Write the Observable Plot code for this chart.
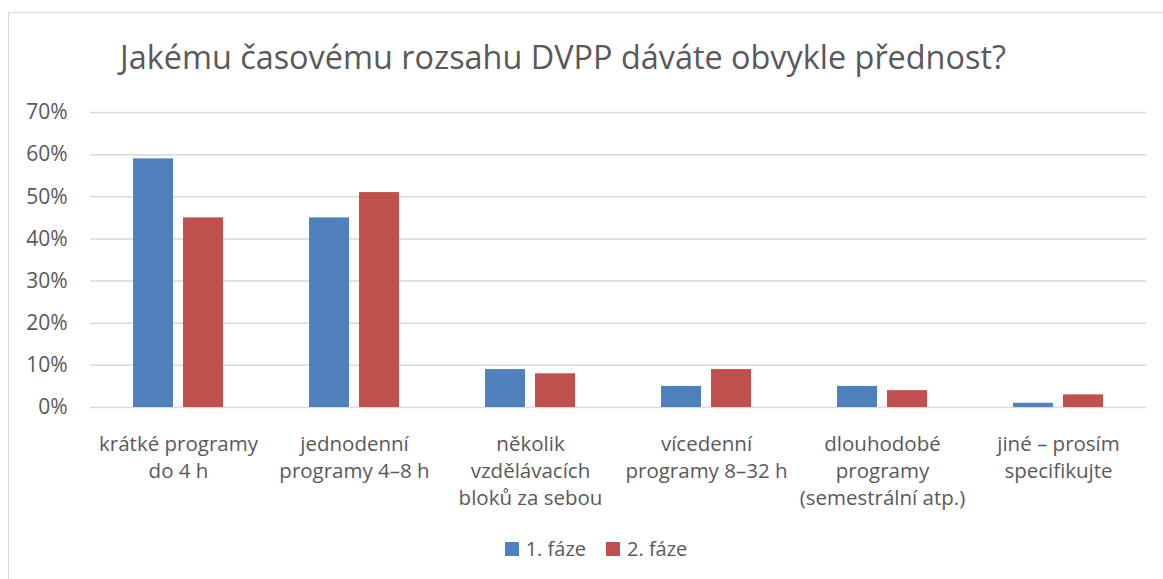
<!DOCTYPE html>
<html>
<head>
<meta charset="utf-8">
<script src="https://cdn.jsdelivr.net/npm/d3@7"></script>
<script src="https://cdn.jsdelivr.net/npm/@observablehq/plot@0.6"></script>
<style>
  html, body { margin: 0; padding: 0; background: #fff; }
  body { width: 1163px; height: 579px; position: relative; overflow: hidden; font-family: "Open Sans", sans-serif; color: #595959; }
  #frame { position: absolute; left: 8px; top: 12px; width: 1160px; height: 600px; border: 1px solid #d9d9d9; box-sizing: border-box; }
  #title { position: absolute; left: 120px; top: 34px; font-size: 32.4px; white-space: nowrap; color: #595959; }
  #chart { position: absolute; left: 0; top: 80px; }
  #legend { position: absolute; top: 535px; left: 0; width: 1192px; display: flex; justify-content: center; gap: 20px; font-size: 20px; }
  .item { display: flex; align-items: center; gap: 7px; }
  .sw { width: 14px; height: 14px; display: inline-block; }
</style>
</head>
<body>
<div id="frame"></div>
<div id="title">Jakému časovému rozsahu DVPP dáváte obvykle přednost?</div>
<div id="chart"></div>
<div id="legend"></div>
<script>
const categories = [
  "krátké programy\ndo 4 h",
  "jednodenní\nprogramy 4–8 h",
  "několik\nvzdělávacích\nbloků za sebou",
  "vícedenní\nprogramy 8–32 h",
  "dlouhodobé\nprogramy\n(semestrální atp.)",
  "jiné – prosím\nspecifikujte"
];
const series = ["1. fáze", "2. fáze"];
const faze1 = [59, 45, 9, 5, 5, 1];
const faze2 = [45, 51, 8, 9, 4, 3];
const yTicks = [0, 10, 20, 30, 40, 50, 60, 70];
const colors = ["#4f81bd", "#c0504d"];

const data = categories.flatMap((c, i) => [
  {cat: c, s: series[0], v: faze1[i]},
  {cat: c, s: series[1], v: faze2[i]}
]);

const chart = Plot.plot({
  width: 1163,
  height: 440,
  marginLeft: 89,
  marginRight: 16,
  marginTop: 32,
  marginBottom: 113,
  style: {fontFamily: "Open Sans, sans-serif", color: "#595959", background: "transparent", overflow: "visible"},
  fx: {domain: categories, padding: 0, label: null},
  x: {domain: series, paddingInner: 0.2, paddingOuter: 0.86, axis: null},
  y: {domain: [0, 70], label: null},
  color: {domain: series, range: colors},
  marks: [
    Plot.gridY(yTicks, {stroke: "#d9d9d9", strokeOpacity: 1, strokeWidth: 1.5}),
    Plot.barY(data, {fx: "cat", x: "s", y: "v", fill: "s"}),
    Plot.axisY(yTicks, {tickSize: 0, tickPadding: 23, tickFormat: d => d + "%", fontSize: 21, fill: "#595959", label: null}),
    Plot.axisFx({anchor: "bottom", tickSize: 0, tickPadding: 24, fontSize: 20.5, lineHeight: 1.32, fill: "#595959", label: null, lineAnchor: "top"})
  ]
});
document.getElementById("chart").appendChild(chart);

const legend = document.getElementById("legend");
series.forEach((s, i) => {
  const it = document.createElement("div");
  it.className = "item";
  it.innerHTML = `<span class="sw" style="background:${colors[i]}"></span><span>${s}</span>`;
  legend.appendChild(it);
});
</script>
</body>
</html>
